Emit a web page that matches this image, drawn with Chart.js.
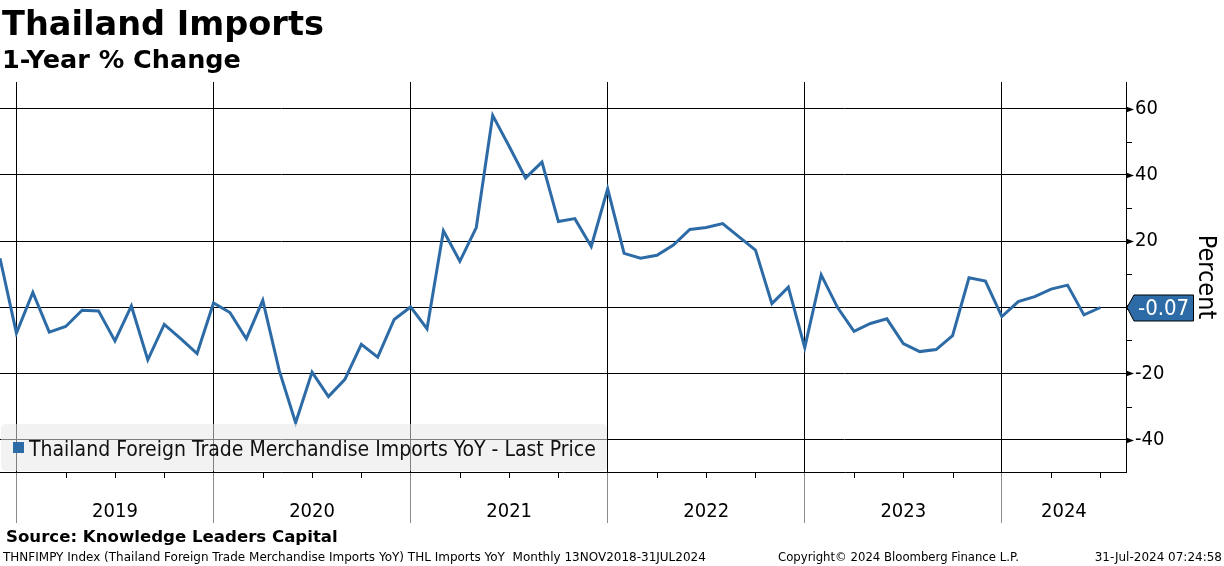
<!DOCTYPE html>
<html>
<head>
<meta charset="utf-8">
<title>Thailand Imports</title>
<script src="https://cdn.jsdelivr.net/npm/chart.js@4.4.1/dist/chart.umd.min.js"></script>
<style>
  body { margin: 0; background: #fff; }
  #wrap { position: relative; width: 1224px; height: 566px; overflow: hidden; font-family: "DejaVu Sans", sans-serif; color: #000; }
  #wrap canvas { position: absolute; left: 0; top: 0; }
  .txt { position: absolute; white-space: nowrap; }
  #title { left: 2px; top: 7px; font-size: 33.6px; line-height: 33.6px; font-weight: bold; }
  #subtitle { left: 2px; top: 46.5px; font-size: 25.5px; line-height: 25.5px; font-weight: bold; }
  #source { left: 6px; top: 529px; font-size: 16.6px; line-height: 16.6px; font-weight: bold; }
  .foot { top: 551px; font-size: 12px; line-height: 12px; }
</style>
</head>
<body>
<div id="wrap">
  <canvas id="importschart" width="1224" height="566"></canvas>
  <div class="txt" id="title">Thailand Imports</div>
  <div class="txt" id="subtitle">1-Year % Change</div>
  <div class="txt" id="source">Source: Knowledge Leaders Capital</div>
  <div class="txt foot" style="left:3px">THNFIMPY Index (Thailand Foreign Trade Merchandise Imports YoY) THL Imports YoY&nbsp; Monthly 13NOV2018-31JUL2024</div>
  <div class="txt foot" style="left:778px; font-size:11.7px">Copyright© 2024 Bloomberg Finance L.P.</div>
  <div class="txt foot" style="right:2px">31-Jul-2024 07:24:58</div>
</div>
<script>
'use strict';

// monthly observations (month end), Nov 2018 - Jun 2024
var months = [
  '2018-11', '2018-12',
  '2019-01', '2019-02', '2019-03', '2019-04', '2019-05', '2019-06', '2019-07', '2019-08', '2019-09', '2019-10', '2019-11', '2019-12',
  '2020-01', '2020-02', '2020-03', '2020-04', '2020-05', '2020-06', '2020-07', '2020-08', '2020-09', '2020-10', '2020-11', '2020-12',
  '2021-01', '2021-02', '2021-03', '2021-04', '2021-05', '2021-06', '2021-07', '2021-08', '2021-09', '2021-10', '2021-11', '2021-12',
  '2022-01', '2022-02', '2022-03', '2022-04', '2022-05', '2022-06', '2022-07', '2022-08', '2022-09', '2022-10', '2022-11', '2022-12',
  '2023-01', '2023-02', '2023-03', '2023-04', '2023-05', '2023-06', '2023-07', '2023-08', '2023-09', '2023-10', '2023-11', '2023-12',
  '2024-01', '2024-02', '2024-03', '2024-04', '2024-05', '2024-06'
];
var importsYoY = [
  14.8, -7.8,
  4.5, -7.5, -5.8, -0.9, -1.1, -10.2, 0.4, -15.9, -5.2, -9.5, -14.0, 1.3,
  -1.6, -9.5, 2.1, -19.1, -34.9, -19.6, -27.0, -21.8, -11.2, -15.1, -3.7, 0.1,
  -6.5, 23.1, 13.9, 24.1, 58.0, 48.7, 39.1, 43.9, 25.9, 26.8, 18.4, 35.8,
  16.3, 14.8, 15.7, 18.8, 23.5, 24.1, 25.3, 21.3, 17.3, 1.1, 6.1, -12.2,
  9.8, -0.1, -7.3, -4.9, -3.5, -11.0, -13.4, -12.8, -8.6, 8.9, 7.9, -2.8,
  1.7, 3.2, 5.5, 6.7, -2.3, -0.07
];
var yearLabels = ['2019', '2020', '2021', '2022', '2023', '2024'];
var yTicks = [-40, -20, 0, 20, 40, 60];
var yMinorTicks = [-30, -10, 10, 30, 50];
var seriesName = 'Thailand Foreign Trade Merchandise Imports YoY - Last Price';

var blue = '#2d6ba7';
var fontFamily = '"DejaVu Sans Condensed", "DejaVu Sans", sans-serif';

// month end as decimal year, e.g. Dec 2018 -> 2019.0
function monthToX(m) {
  var parts = m.split('-');
  return Number(parts[0]) + Number(parts[1]) / 12;
}

var points = [];
for (var i = 0; i < months.length; i++) {
  points.push({ x: monthToX(months[i]), y: importsYoY[i] });
}

// ticks, legend, year labels and last value tag
var decorPlugin = {
  id: 'decor',
  afterDatasetsDraw: function(chart) {
    var ctx = chart.ctx;
    var xs = chart.scales.x;
    var ys = chart.scales.y;
    var area = chart.chartArea;
    ctx.save();

    // quarter ticks under the x axis
    ctx.strokeStyle = '#000';
    ctx.lineWidth = 1;
    for (var yr = 2018; yr <= 2024; yr++) {
      [0.25, 0.5, 0.75].forEach(function(q) {
        var v = yr + q;
        if (v <= xs.min || v >= xs.max) return;
        var px = Math.round(xs.getPixelForValue(v)) + 0.5;
        ctx.beginPath();
        ctx.moveTo(px, area.bottom);
        ctx.lineTo(px, area.bottom + 6);
        ctx.stroke();
      });
    }

    // year labels centred in the visible part of each year
    ctx.fillStyle = '#000';
    ctx.font = '20px ' + fontFamily;
    ctx.textAlign = 'center';
    ctx.textBaseline = 'middle';
    yearLabels.forEach(function(lbl) {
      var y0 = Math.max(Number(lbl), xs.min);
      var y1 = Math.min(Number(lbl) + 1, xs.max);
      var cx = (xs.getPixelForValue(y0) + xs.getPixelForValue(y1)) / 2;
      ctx.fillText(lbl, cx, area.bottom + 40);
    });

    // y axis: minor ticks and little arrow heads at the labelled values
    yMinorTicks.forEach(function(v) {
      var py = Math.round(ys.getPixelForValue(v)) + 0.5;
      ctx.beginPath();
      ctx.moveTo(area.right, py);
      ctx.lineTo(area.right + 6, py);
      ctx.stroke();
    });
    yTicks.forEach(function(v) {
      var py = Math.round(ys.getPixelForValue(v)) + 0.5;
      ctx.beginPath();
      ctx.moveTo(area.right, py - 3);
      ctx.lineTo(area.right + 8, py);
      ctx.lineTo(area.right, py + 3);
      ctx.closePath();
      ctx.fill();
    });

    // legend box in the lower left corner
    var lx = area.left + 1, lw = 606, lh = 47;
    var ly = area.bottom - lh - 1;
    ctx.fillStyle = 'rgba(231,231,231,0.55)';
    ctx.beginPath();
    ctx.roundRect(lx, ly, lw, lh, 5);
    ctx.fill();
    ctx.fillStyle = blue;
    ctx.fillRect(lx + 12, ly + 18, 11, 11);
    ctx.fillStyle = '#111';
    ctx.textAlign = 'left';
    ctx.textBaseline = 'alphabetic';
    ctx.font = '21px ' + fontFamily;
    ctx.fillText(seriesName, lx + 28, ly + 32);

    // last value tag on the right axis
    var last = importsYoY[importsYoY.length - 1];
    var ty = ys.getPixelForValue(last);
    var tx = area.right + 1;
    ctx.beginPath();
    ctx.moveTo(tx, ty);
    ctx.lineTo(tx + 7, ty - 12.5);
    ctx.lineTo(1193.5, ty - 12.5);
    ctx.lineTo(1193.5, ty + 13.5);
    ctx.lineTo(tx + 7, ty + 13.5);
    ctx.closePath();
    ctx.fillStyle = blue;
    ctx.fill();
    ctx.strokeStyle = '#000';
    ctx.stroke();
    ctx.fillStyle = '#fff';
    ctx.textBaseline = 'middle';
    ctx.font = '22px ' + fontFamily;
    ctx.fillText(last.toFixed(2), tx + 11, ty + 1.5);

    ctx.restore();
  }
};

var ctx = document.getElementById('importschart').getContext('2d');
var chart = new Chart(ctx, {
  type: 'line',
  data: {
    datasets: [{
      label: seriesName,
      data: points,
      borderColor: blue,
      backgroundColor: blue,
      borderWidth: 3,
      pointRadius: 0,
      tension: 0
    }]
  },
  options: {
    responsive: false,
    animation: false,
    layout: { padding: { top: 82, left: 0, right: 0, bottom: 42 } },
    plugins: {
      legend: { display: false },
      tooltip: { enabled: false }
    },
    scales: {
      x: {
        type: 'linear',
        min: 2018.9167,
        max: 2024.63,
        afterBuildTicks: function(scale) {
          scale.ticks = yearLabels.map(function(l) { return { value: Number(l) }; });
        },
        afterFit: function(scale) { scale.height = 52; },
        ticks: { display: false },
        grid: {
          color: '#000',
          lineWidth: 1,
          drawTicks: true,
          tickLength: 51,
          tickColor: '#8c8c8c'
        },
        border: { display: true, color: '#000', width: 1 }
      },
      y: {
        type: 'linear',
        position: 'right',
        min: -49.8,
        max: 68.1,
        afterBuildTicks: function(scale) {
          scale.ticks = yTicks.map(function(v) { return { value: v }; });
        },
        afterFit: function(scale) { scale.width = 98; },
        ticks: {
          color: '#000',
          padding: 9,
          font: { family: fontFamily, size: 20 },
          callback: function(v) { return String(v); }
        },
        grid: { color: '#000', lineWidth: 1, drawTicks: false },
        border: { display: true, color: '#000', width: 1 },
        title: {
          display: true,
          text: 'Percent',
          color: '#000',
          font: { family: fontFamily, size: 25 },
          padding: { top: 4, bottom: 0 }
        }
      }
    }
  },
  plugins: [decorPlugin]
});
</script>
</body>
</html>
